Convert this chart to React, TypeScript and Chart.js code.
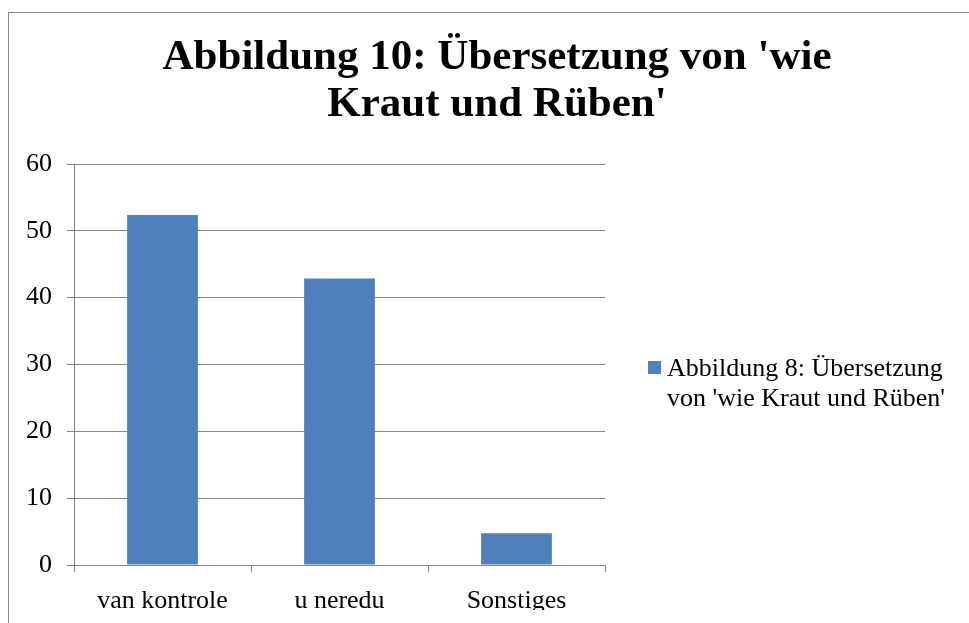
import React, { useEffect, useRef } from 'react';
import { Chart, registerables } from 'chart.js';

Chart.register(...registerables);

const categories = ['van kontrole', 'u neredu', 'Sonstiges'];
const values = [52.38, 42.86, 4.76];
const seriesLabel = "Abbildung 8: Übersetzung von 'wie Kraut und Rüben'";
const legendLines = ['Abbildung 8: Übersetzung', "von 'wie Kraut und Rüben'"];
const titleLines = ["Abbildung 10: Übersetzung von 'wie", "Kraut und Rüben'"];
const yMin = 0;
const yMax = 60;
const yStep = 10;

const FONT = "'Liberation Serif', 'Times New Roman', serif";
const BAR = '#4F81BD';
const GRID = '#868686';

const legendPlugin = {
  id: 'sideLegend',
  afterDraw(chart: any) {
    const { ctx, chartArea } = chart;
    const ds = chart.data.datasets[0];
    const x = chartArea.right + 43;
    const y = chartArea.top + 197;
    ctx.save();
    ctx.fillStyle = ds.backgroundColor;
    ctx.fillRect(x, y, 13, 13);
    ctx.fillStyle = '#000';
    ctx.font = `26px ${FONT}`;
    ctx.textBaseline = 'alphabetic';
    ctx.textAlign = 'left';
    legendLines.forEach((line, i) => {
      ctx.fillText(line, x + 19, y + 15 + i * 30);
    });
    ctx.restore();
  },
};

export default function App() {
  const ref = useRef<HTMLCanvasElement>(null);
  useEffect(() => {
    document.documentElement.style.overflow = 'hidden';
    const chart = new Chart(ref.current as HTMLCanvasElement, {
      type: 'bar',
      data: {
        labels: categories,
        datasets: [
          {
            label: seriesLabel,
            data: values,
            backgroundColor: BAR,
            barPercentage: 0.4,
            categoryPercentage: 1,
          },
        ],
      },
      options: {
        responsive: false,
        animation: false,
        layout: { padding: { left: 0, right: 0, top: 0, bottom: 43 } },
        plugins: {
          legend: { display: false },
          tooltip: { enabled: false },
          title: {
            display: true,
            text: titleLines,
            color: '#000',
            font: { family: FONT, size: 43, weight: 'bold', lineHeight: 1.1 },
            padding: { top: 20.85, bottom: 35.55 },
          },
        },
        scales: {
          x: {
            grid: {
              display: true,
              drawOnChartArea: false,
              drawTicks: true,
              tickLength: 7,
              color: GRID,
              offset: true,
            },
            border: { color: GRID, width: 1 },
            ticks: { color: '#000', font: { family: FONT, size: 26 }, padding: 14 },
            afterFit: (s: any) => {
              s.height = 45;
            },
          },
          y: {
            min: yMin,
            max: yMax,
            grid: { color: GRID, tickLength: 7, drawTicks: true },
            border: { color: GRID, width: 1 },
            ticks: {
              stepSize: yStep,
              color: '#000',
              font: { family: FONT, size: 26 },
              padding: 15,
            },
            afterFit: (s: any) => {
              s.width = 65;
            },
          },
          legendSpace: {
            type: 'linear',
            position: 'right',
            display: true,
            grid: { display: false, drawTicks: false },
            border: { display: false },
            ticks: { display: false },
            afterFit: (s: any) => {
              s.width = 380;
            },
          },
        },
      },
      plugins: [legendPlugin],
    });
    return () => chart.destroy();
  }, []);

  return (
    <div
      style={{
        position: 'fixed',
        left: 8,
        top: 12,
        width: 961,
        height: 611,
        overflow: 'hidden',
      }}
    >
      <div style={{ border: `1px solid ${GRID}`, width: 976, height: 640 }}>
        <canvas ref={ref} width={976} height={640} style={{ display: 'block' }} />
      </div>
    </div>
  );
}
